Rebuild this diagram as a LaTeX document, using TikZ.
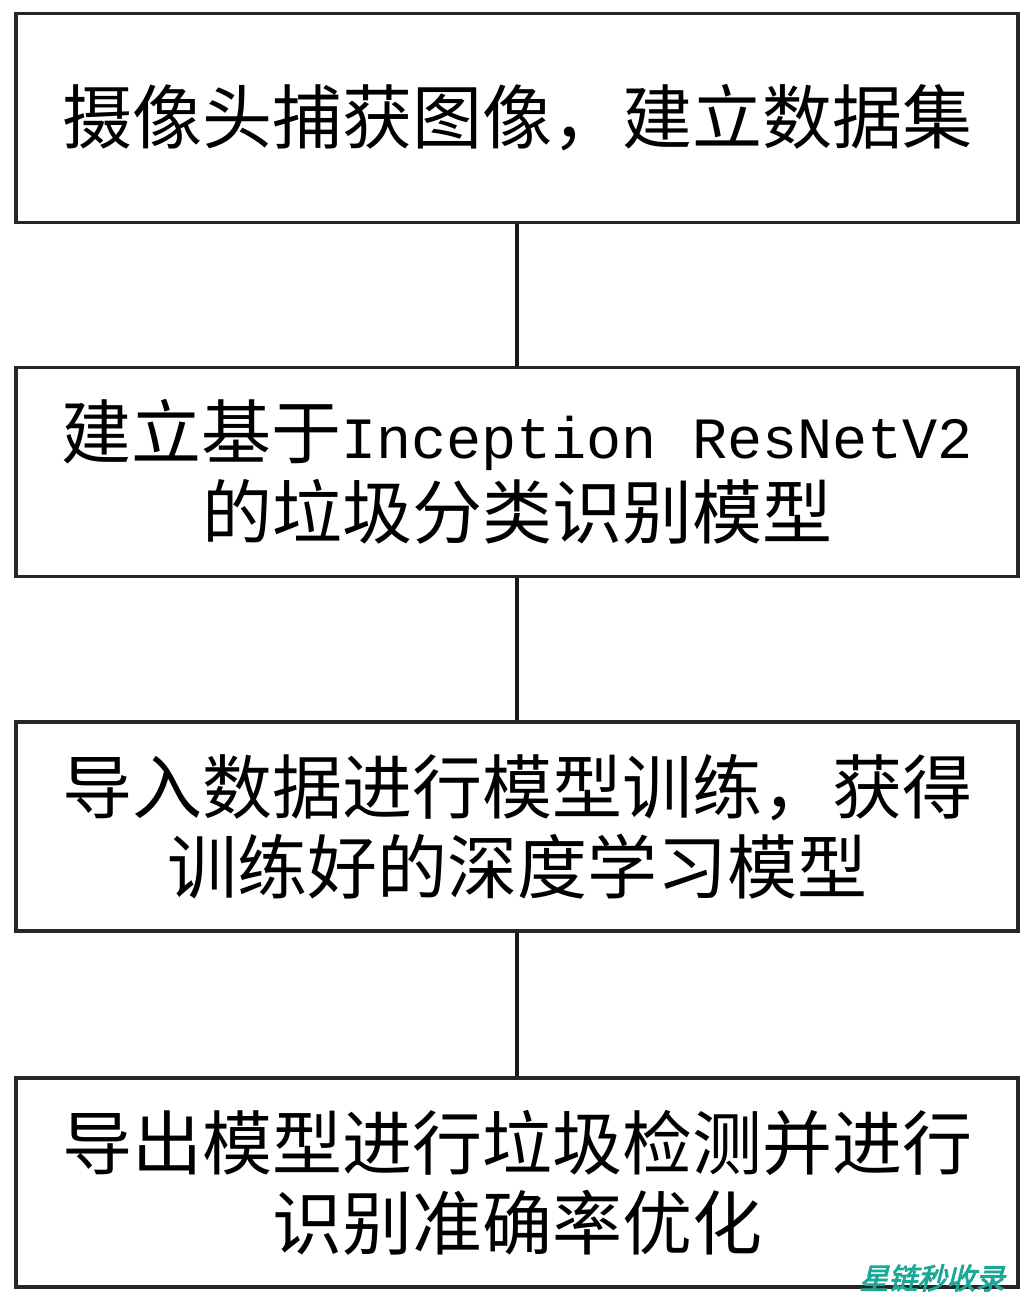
\documentclass[tikz,border=0pt]{standalone}
\usepackage{fontspec}
\newfontfamily\cjk{Noto Sans CJK SC}
\newfontfamily\monolat{Liberation Mono}
\newfontfamily\wmfont[FakeBold=3,FakeSlant=0.25]{Noto Sans CJK SC}
\definecolor{wmteal}{RGB}{28,168,150}
\begin{document}
\begin{tikzpicture}[x=1pt,y=1pt,
  stepbox/.style={draw=black!85,line width=3.2pt,minimum width=1002pt,minimum height=209pt,
    inner sep=0pt,align=center,font=\cjk\fontsize{70}{80}\selectfont},
  link/.style={draw=black!90,line width=4.5pt}]
\useasboundingbox (0,0) rectangle (1035,-1301);
\fill[white] (0,0) rectangle (1035,-1301);
\node[stepbox] (b1) at (517,-118) {摄像头捕获图像，建立数据集};
\node[stepbox] (b2) at (517,-472) {建立基于{\monolat\fontsize{58.5}{80}\selectfont Inception ResNetV2}\\的垃圾分类识别模型};
\node[stepbox] (b3) at (517,-826.5) {导入数据进行模型训练，获得\\训练好的深度学习模型};
\node[stepbox] (b4) at (517,-1182.5) {导出模型进行垃圾检测并进行\\识别准确率优化};
\draw[link] (b1.south) -- (b2.north);
\draw[link] (b2.south) -- (b3.north);
\draw[link] (b3.south) -- (b4.north);
\node[text=wmteal,font=\wmfont\fontsize{29}{29}\selectfont,inner sep=0pt] (wm) at (932,-1278) {星链秒收录};
\end{tikzpicture}
\end{document}
